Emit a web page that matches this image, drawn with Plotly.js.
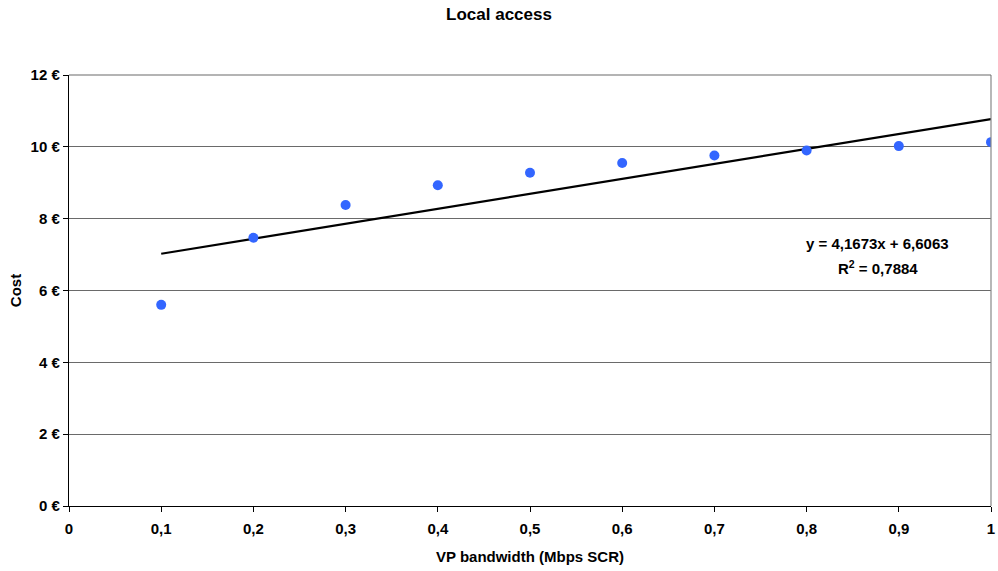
<!DOCTYPE html>
<html><head><meta charset="utf-8">
<script src="https://cdn.plot.ly/plotly-3.0.1.min.js"></script>
<style>html,body{margin:0;padding:0;background:#fff}#c{width:998px;height:571px}</style>
</head><body><div id="c"></div>
<script>
const bandwidth = [0.1, 0.2, 0.3, 0.4, 0.5, 0.6, 0.7, 0.8, 0.9, 1.0];
const cost = [5.60, 7.47, 8.38, 8.93, 9.28, 9.55, 9.76, 9.90, 10.02, 10.13];
const trendSlope = 4.1673;
const trendIntercept = 6.6063;
const trendR2 = 0.7884;
const yTicks = [0, 2, 4, 6, 8, 10, 12];
const xTicks = [0, 0.1, 0.2, 0.3, 0.4, 0.5, 0.6, 0.7, 0.8, 0.9, 1];

const fmt = v => v.toFixed(4).replace('.', ',');
const xEnds = [bandwidth[0], bandwidth[bandwidth.length - 1]];
const trendY = xEnds.map(x => trendSlope * x + trendIntercept);

const fam = 'Liberation Sans, Arial, sans-serif';
const font = {family: fam, size: 15, color: '#000'};
Plotly.newPlot('c', [
  {x: xEnds, y: trendY, mode: 'lines', line: {color: '#000', width: 2.2}, hoverinfo: 'skip'},
  {x: bandwidth, y: cost, mode: 'markers', marker: {color: '#3366FF', size: 10}}
], {
  width: 998, height: 571,
  margin: {l: 69, r: 7, t: 75, b: 65},
  separators: ', ',
  showlegend: false,
  paper_bgcolor: '#fff', plot_bgcolor: '#fff',
  font: font,
  title: {text: '<b>Local access</b>', x: 0.5, xanchor: 'center', y: 0.975, yanchor: 'middle', font: {family: fam, size: 17, color: '#000'}},
  xaxis: {
    range: [0, 1], tickvals: xTicks, ticktext: xTicks.map(v => '<b>' + (v === 0 ? '0' : v === 1 ? '1' : String(v).replace('.', ',')) + '</b>'),
    showgrid: false, zeroline: false, showline: true, linecolor: '#000', linewidth: 1.2,
    ticks: 'outside', ticklen: 5, tickcolor: '#000', ticklabelstandoff: 4, tickfont: {family: fam, size: 15, color: '#000'},
    title: {text: '<b>VP bandwidth (Mbps SCR)</b>', standoff: 15, font: {family: fam, size: 15, color: '#000'}}
  },
  yaxis: {
    range: [0, 12], tickvals: yTicks, ticktext: yTicks.map(v => '<b>' + v + ' €</b>'),
    showgrid: true, gridcolor: '#6a6a6a', gridwidth: 1.2, zeroline: false, showline: true, linecolor: '#000', linewidth: 1.2,
    ticks: 'outside', ticklen: 5, tickcolor: '#000', tickfont: {family: fam, size: 15, color: '#000'},
    title: {text: '<b>Cost</b>', standoff: 5, font: {family: fam, size: 15, color: '#000'}}
  },
  shapes: [
    {type: 'line', xref: 'paper', yref: 'paper', x0: 1, x1: 1, y0: 0, y1: 1, line: {color: '#888', width: 1.2}},
    {type: 'line', xref: 'paper', yref: 'paper', x0: 0, x1: 1, y0: 1, y1: 1, line: {color: '#6a6a6a', width: 1.2}}
  ],
  annotations: [
    {xref: 'paper', yref: 'paper', x: 0.877, y: 0.610, xanchor: 'center', yanchor: 'middle', showarrow: false,
     text: '<b>y = ' + fmt(trendSlope) + 'x + ' + fmt(trendIntercept) + '</b>', font: {family: fam, size: 15, color: '#000'}},
    {xref: 'paper', yref: 'paper', x: 0.877, y: 0.553, xanchor: 'center', yanchor: 'middle', showarrow: false,
     text: '<b>R<sup>2</sup> = ' + fmt(trendR2) + '</b>', font: {family: fam, size: 15, color: '#000'}}
  ]
}, {displayModeBar: false, staticPlot: true});
</script></body></html>
